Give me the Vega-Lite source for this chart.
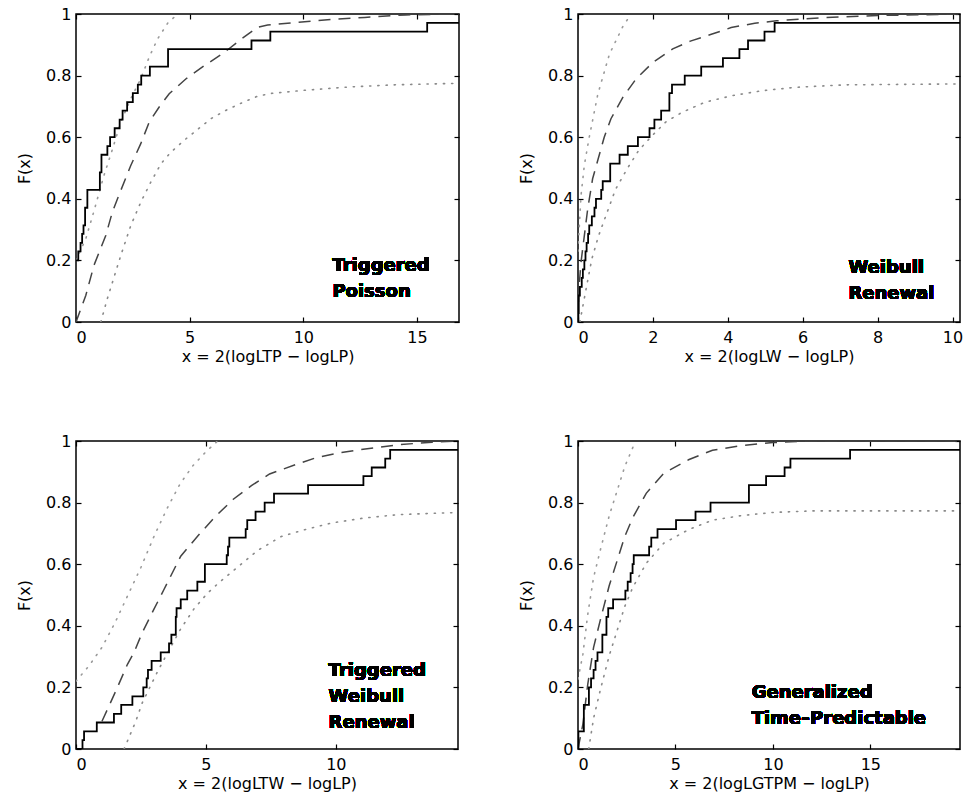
{
  "$schema": "https://vega.github.io/schema/vega-lite/v6.json",
  "background": "white",
  "padding": {"left": 15, "top": 5, "right": 0, "bottom": 0},
  "columns": 2,
  "bounds": "flush",
  "spacing": {"row": 119, "column": 119},
  "config": {
    "font": "DejaVu Sans",
    "view": {"stroke": "black", "strokeWidth": 1.5},
    "axis": {"domain": false, "grid": false, "tickColor": "black", "tickSize": -5, "tickWidth": 1.2, "labelFont": "DejaVu Sans", "labelFontSize": 16, "labelColor": "black", "titleFont": "DejaVu Sans", "titleFontSize": 16, "titleFontWeight": "normal", "titleColor": "black"},
    "axisX": {"titlePadding": 3, "labelPadding": 12},
    "axisY": {"titlePadding": 13, "labelPadding": 10}
  },
  "datasets": {
    "p1": [
      {"s":"ecdf","x":0,"F":0.2},{"s":"ecdf","x":0.1,"F":0.229},{"s":"ecdf","x":0.2,"F":0.257},{"s":"ecdf","x":0.27,"F":0.286},{"s":"ecdf","x":0.33,"F":0.314},{"s":"ecdf","x":0.4,"F":0.371},{"s":"ecdf","x":0.5,"F":0.429},{"s":"ecdf","x":1.05,"F":0.486},{"s":"ecdf","x":1.12,"F":0.543},{"s":"ecdf","x":1.38,"F":0.571},{"s":"ecdf","x":1.5,"F":0.6},{"s":"ecdf","x":1.7,"F":0.629},{"s":"ecdf","x":1.92,"F":0.657},{"s":"ecdf","x":2.05,"F":0.686},{"s":"ecdf","x":2.25,"F":0.714},{"s":"ecdf","x":2.5,"F":0.743},{"s":"ecdf","x":2.72,"F":0.771},{"s":"ecdf","x":2.87,"F":0.8},{"s":"ecdf","x":3.25,"F":0.829},{"s":"ecdf","x":4.05,"F":0.886},{"s":"ecdf","x":7.72,"F":0.914},{"s":"ecdf","x":8.55,"F":0.943},{"s":"ecdf","x":15.45,"F":0.971},{"s":"ecdf","x":16.85,"F":0.971},
      {"s":"model","x":0,"F":0},{"s":"model","x":0.43,"F":0.086},{"s":"model","x":0.79,"F":0.184},{"s":"model","x":1.31,"F":0.281},{"s":"model","x":1.6,"F":0.357},{"s":"model","x":1.97,"F":0.427},{"s":"model","x":2.41,"F":0.508},{"s":"model","x":2.85,"F":0.579},{"s":"model","x":3.22,"F":0.649},{"s":"model","x":3.66,"F":0.698},{"s":"model","x":4.1,"F":0.741},{"s":"model","x":4.83,"F":0.789},{"s":"model","x":5.64,"F":0.832},{"s":"model","x":6.52,"F":0.875},{"s":"model","x":7.26,"F":0.918},{"s":"model","x":7.99,"F":0.957},{"s":"model","x":8.43,"F":0.964},{"s":"model","x":9.8,"F":0.973},{"s":"model","x":11.2,"F":0.982},{"s":"model","x":12.7,"F":0.989},{"s":"model","x":14.5,"F":0.997},{"s":"model","x":16.85,"F":1.0},
      {"s":"upper","x":0,"F":0.2},{"s":"upper","x":0.43,"F":0.27},{"s":"upper","x":0.79,"F":0.36},{"s":"upper","x":1.23,"F":0.476},{"s":"upper","x":1.6,"F":0.56},{"s":"upper","x":1.97,"F":0.649},{"s":"upper","x":2.41,"F":0.725},{"s":"upper","x":2.85,"F":0.79},{"s":"upper","x":3.22,"F":0.86},{"s":"upper","x":3.59,"F":0.919},{"s":"upper","x":4.03,"F":0.97},{"s":"upper","x":4.47,"F":1.0},
      {"s":"lower","x":1.09,"F":0},{"s":"lower","x":1.38,"F":0.076},{"s":"lower","x":1.97,"F":0.216},{"s":"lower","x":2.41,"F":0.313},{"s":"lower","x":2.85,"F":0.389},{"s":"lower","x":3.29,"F":0.454},{"s":"lower","x":3.73,"F":0.513},{"s":"lower","x":4.17,"F":0.551},{"s":"lower","x":4.76,"F":0.59},{"s":"lower","x":5.35,"F":0.625},{"s":"lower","x":5.93,"F":0.66},{"s":"lower","x":6.67,"F":0.69},{"s":"lower","x":7.4,"F":0.715},{"s":"lower","x":7.99,"F":0.733},{"s":"lower","x":8.58,"F":0.742},{"s":"lower","x":10,"F":0.752},{"s":"lower","x":12,"F":0.763},{"s":"lower","x":14,"F":0.77},{"s":"lower","x":16.85,"F":0.775}
    ],
    "p2": [
      {"s":"ecdf","x":0,"F":0},{"s":"ecdf","x":0.01,"F":0.029},{"s":"ecdf","x":0.02,"F":0.086},{"s":"ecdf","x":0.05,"F":0.114},{"s":"ecdf","x":0.1,"F":0.143},{"s":"ecdf","x":0.13,"F":0.171},{"s":"ecdf","x":0.17,"F":0.2},{"s":"ecdf","x":0.2,"F":0.229},{"s":"ecdf","x":0.23,"F":0.257},{"s":"ecdf","x":0.27,"F":0.286},{"s":"ecdf","x":0.3,"F":0.314},{"s":"ecdf","x":0.37,"F":0.343},{"s":"ecdf","x":0.44,"F":0.371},{"s":"ecdf","x":0.48,"F":0.4},{"s":"ecdf","x":0.62,"F":0.429},{"s":"ecdf","x":0.66,"F":0.457},{"s":"ecdf","x":0.86,"F":0.514},{"s":"ecdf","x":1.11,"F":0.543},{"s":"ecdf","x":1.33,"F":0.571},{"s":"ecdf","x":1.6,"F":0.6},{"s":"ecdf","x":1.91,"F":0.629},{"s":"ecdf","x":2.04,"F":0.657},{"s":"ecdf","x":2.22,"F":0.686},{"s":"ecdf","x":2.44,"F":0.743},{"s":"ecdf","x":2.51,"F":0.771},{"s":"ecdf","x":2.85,"F":0.8},{"s":"ecdf","x":3.29,"F":0.829},{"s":"ecdf","x":3.87,"F":0.857},{"s":"ecdf","x":4.31,"F":0.886},{"s":"ecdf","x":4.54,"F":0.914},{"s":"ecdf","x":4.98,"F":0.943},{"s":"ecdf","x":5.25,"F":0.971},{"s":"ecdf","x":10.2,"F":0.971},
      {"s":"model","x":0,"F":0},{"s":"model","x":0.02,"F":0.1},{"s":"model","x":0.08,"F":0.194},{"s":"model","x":0.26,"F":0.368},{"s":"model","x":0.39,"F":0.465},{"s":"model","x":0.7,"F":0.6},{"s":"model","x":0.88,"F":0.66},{"s":"model","x":1.2,"F":0.73},{"s":"model","x":1.55,"F":0.789},{"s":"model","x":2.0,"F":0.843},{"s":"model","x":2.53,"F":0.887},{"s":"model","x":3.0,"F":0.912},{"s":"model","x":3.56,"F":0.934},{"s":"model","x":4.09,"F":0.956},{"s":"model","x":4.72,"F":0.97},{"s":"model","x":5.3,"F":0.978},{"s":"model","x":6.5,"F":0.988},{"s":"model","x":8,"F":0.995},{"s":"model","x":10.2,"F":1.0},
      {"s":"upper","x":0,"F":0.23},{"s":"upper","x":0.03,"F":0.3},{"s":"upper","x":0.08,"F":0.41},{"s":"upper","x":0.17,"F":0.51},{"s":"upper","x":0.3,"F":0.6},{"s":"upper","x":0.53,"F":0.74},{"s":"upper","x":0.84,"F":0.87},{"s":"upper","x":1.2,"F":0.96},{"s":"upper","x":1.42,"F":1.0},
      {"s":"lower","x":0.05,"F":0},{"s":"lower","x":0.2,"F":0.097},{"s":"lower","x":0.37,"F":0.205},{"s":"lower","x":0.55,"F":0.28},{"s":"lower","x":0.78,"F":0.357},{"s":"lower","x":1.0,"F":0.43},{"s":"lower","x":1.31,"F":0.497},{"s":"lower","x":1.62,"F":0.557},{"s":"lower","x":1.98,"F":0.605},{"s":"lower","x":2.34,"F":0.649},{"s":"lower","x":2.78,"F":0.681},{"s":"lower","x":3.4,"F":0.714},{"s":"lower","x":4.12,"F":0.735},{"s":"lower","x":4.92,"F":0.751},{"s":"lower","x":5.81,"F":0.762},{"s":"lower","x":7.15,"F":0.77},{"s":"lower","x":10.2,"F":0.773}
    ],
    "p3": [
      {"s":"ecdf","x":0,"F":0},{"s":"ecdf","x":0.25,"F":0.029},{"s":"ecdf","x":0.31,"F":0.057},{"s":"ecdf","x":0.8,"F":0.086},{"s":"ecdf","x":1.46,"F":0.114},{"s":"ecdf","x":1.74,"F":0.143},{"s":"ecdf","x":2.17,"F":0.171},{"s":"ecdf","x":2.59,"F":0.2},{"s":"ecdf","x":2.72,"F":0.229},{"s":"ecdf","x":2.77,"F":0.257},{"s":"ecdf","x":2.91,"F":0.286},{"s":"ecdf","x":3.26,"F":0.314},{"s":"ecdf","x":3.58,"F":0.343},{"s":"ecdf","x":3.67,"F":0.371},{"s":"ecdf","x":3.84,"F":0.429},{"s":"ecdf","x":3.87,"F":0.457},{"s":"ecdf","x":4.03,"F":0.486},{"s":"ecdf","x":4.28,"F":0.514},{"s":"ecdf","x":4.67,"F":0.543},{"s":"ecdf","x":4.96,"F":0.6},{"s":"ecdf","x":5.8,"F":0.629},{"s":"ecdf","x":5.85,"F":0.657},{"s":"ecdf","x":5.9,"F":0.686},{"s":"ecdf","x":6.53,"F":0.714},{"s":"ecdf","x":6.59,"F":0.743},{"s":"ecdf","x":6.91,"F":0.771},{"s":"ecdf","x":7.26,"F":0.8},{"s":"ecdf","x":7.62,"F":0.829},{"s":"ecdf","x":8.93,"F":0.857},{"s":"ecdf","x":11.06,"F":0.886},{"s":"ecdf","x":11.38,"F":0.914},{"s":"ecdf","x":11.9,"F":0.943},{"s":"ecdf","x":12.09,"F":0.971},{"s":"ecdf","x":14.7,"F":0.971},
      {"s":"model","x":1.0,"F":0.09},{"s":"model","x":1.53,"F":0.188},{"s":"model","x":1.98,"F":0.275},{"s":"model","x":2.23,"F":0.313},{"s":"model","x":2.55,"F":0.378},{"s":"model","x":3.0,"F":0.454},{"s":"model","x":3.38,"F":0.517},{"s":"model","x":4.03,"F":0.626},{"s":"model","x":4.67,"F":0.69},{"s":"model","x":5.33,"F":0.752},{"s":"model","x":6.04,"F":0.81},{"s":"model","x":6.75,"F":0.855},{"s":"model","x":7.45,"F":0.893},{"s":"model","x":8.44,"F":0.923},{"s":"model","x":9.21,"F":0.945},{"s":"model","x":10.1,"F":0.961},{"s":"model","x":11.13,"F":0.974},{"s":"model","x":12.4,"F":0.988},{"s":"model","x":13.7,"F":0.996},{"s":"model","x":14.7,"F":1.0},
      {"s":"upper","x":0,"F":0.22},{"s":"upper","x":0.5,"F":0.27},{"s":"upper","x":1.0,"F":0.33},{"s":"upper","x":1.5,"F":0.41},{"s":"upper","x":2.0,"F":0.5},{"s":"upper","x":2.5,"F":0.59},{"s":"upper","x":3.0,"F":0.69},{"s":"upper","x":3.5,"F":0.78},{"s":"upper","x":4.0,"F":0.86},{"s":"upper","x":4.5,"F":0.92},{"s":"upper","x":5.0,"F":0.965},{"s":"upper","x":5.45,"F":1.0},
      {"s":"lower","x":1.85,"F":0},{"s":"lower","x":2.3,"F":0.09},{"s":"lower","x":2.55,"F":0.15},{"s":"lower","x":3.13,"F":0.25},{"s":"lower","x":3.51,"F":0.31},{"s":"lower","x":4.03,"F":0.39},{"s":"lower","x":4.54,"F":0.455},{"s":"lower","x":5.05,"F":0.505},{"s":"lower","x":5.5,"F":0.54},{"s":"lower","x":6.0,"F":0.575},{"s":"lower","x":6.5,"F":0.61},{"s":"lower","x":7.0,"F":0.645},{"s":"lower","x":7.9,"F":0.69},{"s":"lower","x":8.8,"F":0.712},{"s":"lower","x":9.85,"F":0.734},{"s":"lower","x":11.1,"F":0.75},{"s":"lower","x":12.4,"F":0.761},{"s":"lower","x":14.7,"F":0.768}
    ],
    "p4": [
      {"s":"ecdf","x":0,"F":0},{"s":"ecdf","x":0.02,"F":0.057},{"s":"ecdf","x":0.3,"F":0.143},{"s":"ecdf","x":0.56,"F":0.2},{"s":"ecdf","x":0.67,"F":0.229},{"s":"ecdf","x":0.8,"F":0.257},{"s":"ecdf","x":0.9,"F":0.286},{"s":"ecdf","x":1.0,"F":0.314},{"s":"ecdf","x":1.25,"F":0.371},{"s":"ecdf","x":1.46,"F":0.429},{"s":"ecdf","x":1.55,"F":0.457},{"s":"ecdf","x":1.8,"F":0.486},{"s":"ecdf","x":2.43,"F":0.514},{"s":"ecdf","x":2.55,"F":0.543},{"s":"ecdf","x":2.7,"F":0.571},{"s":"ecdf","x":2.8,"F":0.6},{"s":"ecdf","x":2.86,"F":0.629},{"s":"ecdf","x":3.65,"F":0.657},{"s":"ecdf","x":3.76,"F":0.686},{"s":"ecdf","x":4.08,"F":0.714},{"s":"ecdf","x":5.03,"F":0.743},{"s":"ecdf","x":6.03,"F":0.771},{"s":"ecdf","x":6.8,"F":0.8},{"s":"ecdf","x":8.77,"F":0.857},{"s":"ecdf","x":9.65,"F":0.886},{"s":"ecdf","x":10.6,"F":0.914},{"s":"ecdf","x":10.9,"F":0.943},{"s":"ecdf","x":13.96,"F":0.971},{"s":"ecdf","x":19.6,"F":0.971},
      {"s":"model","x":0,"F":0},{"s":"model","x":0.25,"F":0.08},{"s":"model","x":0.5,"F":0.21},{"s":"model","x":0.8,"F":0.33},{"s":"model","x":1.15,"F":0.42},{"s":"model","x":1.6,"F":0.53},{"s":"model","x":2.0,"F":0.61},{"s":"model","x":2.4,"F":0.69},{"s":"model","x":2.8,"F":0.75},{"s":"model","x":3.5,"F":0.83},{"s":"model","x":4.4,"F":0.895},{"s":"model","x":5.7,"F":0.94},{"s":"model","x":6.9,"F":0.97},{"s":"model","x":8.4,"F":0.985},{"s":"model","x":10,"F":0.995},{"s":"model","x":12,"F":1.0},{"s":"model","x":19.6,"F":1.0},
      {"s":"upper","x":0,"F":0.227},{"s":"upper","x":0.25,"F":0.307},{"s":"upper","x":0.5,"F":0.437},{"s":"upper","x":0.8,"F":0.557},{"s":"upper","x":1.15,"F":0.647},{"s":"upper","x":1.6,"F":0.757},{"s":"upper","x":2.0,"F":0.837},{"s":"upper","x":2.4,"F":0.917},{"s":"upper","x":2.8,"F":0.977},{"s":"upper","x":2.95,"F":1.0},
      {"s":"lower","x":0.55,"F":0},{"s":"lower","x":0.8,"F":0.1},{"s":"lower","x":1.15,"F":0.193},{"s":"lower","x":1.6,"F":0.303},{"s":"lower","x":2.0,"F":0.383},{"s":"lower","x":2.4,"F":0.463},{"s":"lower","x":2.8,"F":0.523},{"s":"lower","x":3.5,"F":0.603},{"s":"lower","x":4.4,"F":0.668},{"s":"lower","x":5.7,"F":0.713},{"s":"lower","x":6.9,"F":0.743},{"s":"lower","x":8.4,"F":0.758},{"s":"lower","x":10,"F":0.768},{"s":"lower","x":12,"F":0.773},{"s":"lower","x":19.6,"F":0.773}
    ]
  },
  "concat": [
    {
      "width": 383, "height": 308,
      "data": {"name": "p1"},
      "resolve": {"axis": {"x": "independent", "y": "independent"}},
      "layer": [
        {"transform": [{"filter": "datum.s === 'lower'"}], "mark": {"type": "line", "color": "#8a8a8a", "strokeWidth": 1.6, "strokeDash": [1.2, 7], "strokeCap": "round", "clip": true},
         "encoding": {"x": {"field": "x", "type": "quantitative", "scale": {"domain": [0, 16.85], "nice": false, "zero": false}, "axis": {"values": [0, 5, 10, 15], "title": "x = 2(logLTP − logLP)"}},
                      "y": {"field": "F", "type": "quantitative", "scale": {"domain": [0, 1], "nice": false}, "axis": {"values": [0, 0.2, 0.4, 0.6, 0.8, 1], "format": "~g", "title": "F(x)"}}}},
        {"transform": [{"filter": "datum.s === 'upper'"}], "mark": {"type": "line", "color": "#9a9a9a", "strokeWidth": 1.6, "strokeDash": [1.2, 7], "strokeCap": "round", "clip": true},
         "encoding": {"x": {"field": "x", "type": "quantitative", "axis": {"orient": "top", "values": [0, 5, 10, 15], "labels": false, "title": null}},
                      "y": {"field": "F", "type": "quantitative", "axis": {"orient": "right", "values": [0, 0.2, 0.4, 0.6, 0.8, 1], "labels": false, "title": null}}}},
        {"transform": [{"filter": "datum.s === 'model'"}], "mark": {"type": "line", "color": "#444444", "strokeWidth": 1.5, "strokeDash": [12, 8], "clip": true},
         "encoding": {"x": {"field": "x", "type": "quantitative", "axis": null}, "y": {"field": "F", "type": "quantitative", "axis": null}}},
        {"transform": [{"filter": "datum.s === 'ecdf'"}], "mark": {"type": "line", "color": "black", "strokeWidth": 1.8, "interpolate": "step-after", "clip": true},
         "encoding": {"x": {"field": "x", "type": "quantitative", "axis": null}, "y": {"field": "F", "type": "quantitative", "axis": null}}},
        {"mark": {"type": "text", "text": "Triggered\nPoisson", "lineBreak": "\n", "lineHeight": 26, "align": "left", "baseline": "alphabetic", "font": "DejaVu Sans", "fontSize": 18, "fontWeight": "bold", "color": "black"},
         "encoding": {"x": {"datum": 11.28, "type": "quantitative", "axis": null}, "y": {"datum": 0.164, "type": "quantitative", "axis": null}}}
      ]
    },
    {
      "width": 382, "height": 308,
      "data": {"name": "p2"},
      "resolve": {"axis": {"x": "independent", "y": "independent"}},
      "layer": [
        {"transform": [{"filter": "datum.s === 'lower'"}], "mark": {"type": "line", "color": "#8a8a8a", "strokeWidth": 1.6, "strokeDash": [1.2, 7], "strokeCap": "round", "clip": true},
         "encoding": {"x": {"field": "x", "type": "quantitative", "scale": {"domain": [0, 10.2], "nice": false, "zero": false}, "axis": {"values": [0, 2, 4, 6, 8, 10], "title": "x = 2(logLW − logLP)"}},
                      "y": {"field": "F", "type": "quantitative", "scale": {"domain": [0, 1], "nice": false}, "axis": {"values": [0, 0.2, 0.4, 0.6, 0.8, 1], "format": "~g", "title": "F(x)"}}}},
        {"transform": [{"filter": "datum.s === 'upper'"}], "mark": {"type": "line", "color": "#9a9a9a", "strokeWidth": 1.6, "strokeDash": [1.2, 7], "strokeCap": "round", "clip": true},
         "encoding": {"x": {"field": "x", "type": "quantitative", "axis": {"orient": "top", "values": [0, 2, 4, 6, 8, 10], "labels": false, "title": null}},
                      "y": {"field": "F", "type": "quantitative", "axis": {"orient": "right", "values": [0, 0.2, 0.4, 0.6, 0.8, 1], "labels": false, "title": null}}}},
        {"transform": [{"filter": "datum.s === 'model'"}], "mark": {"type": "line", "color": "#444444", "strokeWidth": 1.5, "strokeDash": [12, 8], "clip": true},
         "encoding": {"x": {"field": "x", "type": "quantitative", "axis": null}, "y": {"field": "F", "type": "quantitative", "axis": null}}},
        {"transform": [{"filter": "datum.s === 'ecdf'"}], "mark": {"type": "line", "color": "black", "strokeWidth": 1.8, "interpolate": "step-after", "clip": true},
         "encoding": {"x": {"field": "x", "type": "quantitative", "axis": null}, "y": {"field": "F", "type": "quantitative", "axis": null}}},
        {"mark": {"type": "text", "text": "Weibull\nRenewal", "lineBreak": "\n", "lineHeight": 26, "align": "left", "baseline": "alphabetic", "font": "DejaVu Sans", "fontSize": 18, "fontWeight": "bold", "color": "black"},
         "encoding": {"x": {"datum": 7.22, "type": "quantitative", "axis": null}, "y": {"datum": 0.158, "type": "quantitative", "axis": null}}}
      ]
    },
    {
      "width": 382, "height": 308,
      "data": {"name": "p3"},
      "resolve": {"axis": {"x": "independent", "y": "independent"}},
      "layer": [
        {"transform": [{"filter": "datum.s === 'lower'"}], "mark": {"type": "line", "color": "#8a8a8a", "strokeWidth": 1.6, "strokeDash": [1.2, 7], "strokeCap": "round", "clip": true},
         "encoding": {"x": {"field": "x", "type": "quantitative", "scale": {"domain": [0, 14.7], "nice": false, "zero": false}, "axis": {"values": [0, 5, 10], "title": "x = 2(logLTW − logLP)"}},
                      "y": {"field": "F", "type": "quantitative", "scale": {"domain": [0, 1], "nice": false}, "axis": {"values": [0, 0.2, 0.4, 0.6, 0.8, 1], "format": "~g", "title": "F(x)"}}}},
        {"transform": [{"filter": "datum.s === 'upper'"}], "mark": {"type": "line", "color": "#9a9a9a", "strokeWidth": 1.6, "strokeDash": [1.2, 7], "strokeCap": "round", "clip": true},
         "encoding": {"x": {"field": "x", "type": "quantitative", "axis": {"orient": "top", "values": [0, 5, 10], "labels": false, "title": null}},
                      "y": {"field": "F", "type": "quantitative", "axis": {"orient": "right", "values": [0, 0.2, 0.4, 0.6, 0.8, 1], "labels": false, "title": null}}}},
        {"transform": [{"filter": "datum.s === 'model'"}], "mark": {"type": "line", "color": "#444444", "strokeWidth": 1.5, "strokeDash": [12, 8], "clip": true},
         "encoding": {"x": {"field": "x", "type": "quantitative", "axis": null}, "y": {"field": "F", "type": "quantitative", "axis": null}}},
        {"transform": [{"filter": "datum.s === 'ecdf'"}], "mark": {"type": "line", "color": "black", "strokeWidth": 1.8, "interpolate": "step-after", "clip": true},
         "encoding": {"x": {"field": "x", "type": "quantitative", "axis": null}, "y": {"field": "F", "type": "quantitative", "axis": null}}},
        {"mark": {"type": "text", "text": "Triggered\nWeibull\nRenewal", "lineBreak": "\n", "lineHeight": 26, "align": "left", "baseline": "alphabetic", "font": "DejaVu Sans", "fontSize": 18, "fontWeight": "bold", "color": "black"},
         "encoding": {"x": {"datum": 9.72, "type": "quantitative", "axis": null}, "y": {"datum": 0.238, "type": "quantitative", "axis": null}}}
      ]
    },
    {
      "width": 382, "height": 308,
      "data": {"name": "p4"},
      "resolve": {"axis": {"x": "independent", "y": "independent"}},
      "layer": [
        {"transform": [{"filter": "datum.s === 'lower'"}], "mark": {"type": "line", "color": "#8a8a8a", "strokeWidth": 1.6, "strokeDash": [1.2, 7], "strokeCap": "round", "clip": true},
         "encoding": {"x": {"field": "x", "type": "quantitative", "scale": {"domain": [0, 19.6], "nice": false, "zero": false}, "axis": {"values": [0, 5, 10, 15], "title": "x = 2(logLGTPM − logLP)"}},
                      "y": {"field": "F", "type": "quantitative", "scale": {"domain": [0, 1], "nice": false}, "axis": {"values": [0, 0.2, 0.4, 0.6, 0.8, 1], "format": "~g", "title": "F(x)"}}}},
        {"transform": [{"filter": "datum.s === 'upper'"}], "mark": {"type": "line", "color": "#9a9a9a", "strokeWidth": 1.6, "strokeDash": [1.2, 7], "strokeCap": "round", "clip": true},
         "encoding": {"x": {"field": "x", "type": "quantitative", "axis": {"orient": "top", "values": [0, 5, 10, 15], "labels": false, "title": null}},
                      "y": {"field": "F", "type": "quantitative", "axis": {"orient": "right", "values": [0, 0.2, 0.4, 0.6, 0.8, 1], "labels": false, "title": null}}}},
        {"transform": [{"filter": "datum.s === 'model'"}], "mark": {"type": "line", "color": "#444444", "strokeWidth": 1.5, "strokeDash": [12, 8], "clip": true},
         "encoding": {"x": {"field": "x", "type": "quantitative", "axis": null}, "y": {"field": "F", "type": "quantitative", "axis": null}}},
        {"transform": [{"filter": "datum.s === 'ecdf'"}], "mark": {"type": "line", "color": "black", "strokeWidth": 1.8, "interpolate": "step-after", "clip": true},
         "encoding": {"x": {"field": "x", "type": "quantitative", "axis": null}, "y": {"field": "F", "type": "quantitative", "axis": null}}},
        {"mark": {"type": "text", "text": "Generalized\nTime–Predictable", "lineBreak": "\n", "lineHeight": 26, "align": "left", "baseline": "alphabetic", "font": "DejaVu Sans", "fontSize": 18, "fontWeight": "bold", "color": "black"},
         "encoding": {"x": {"datum": 8.91, "type": "quantitative", "axis": null}, "y": {"datum": 0.165, "type": "quantitative", "axis": null}}}
      ]
    }
  ]
}
